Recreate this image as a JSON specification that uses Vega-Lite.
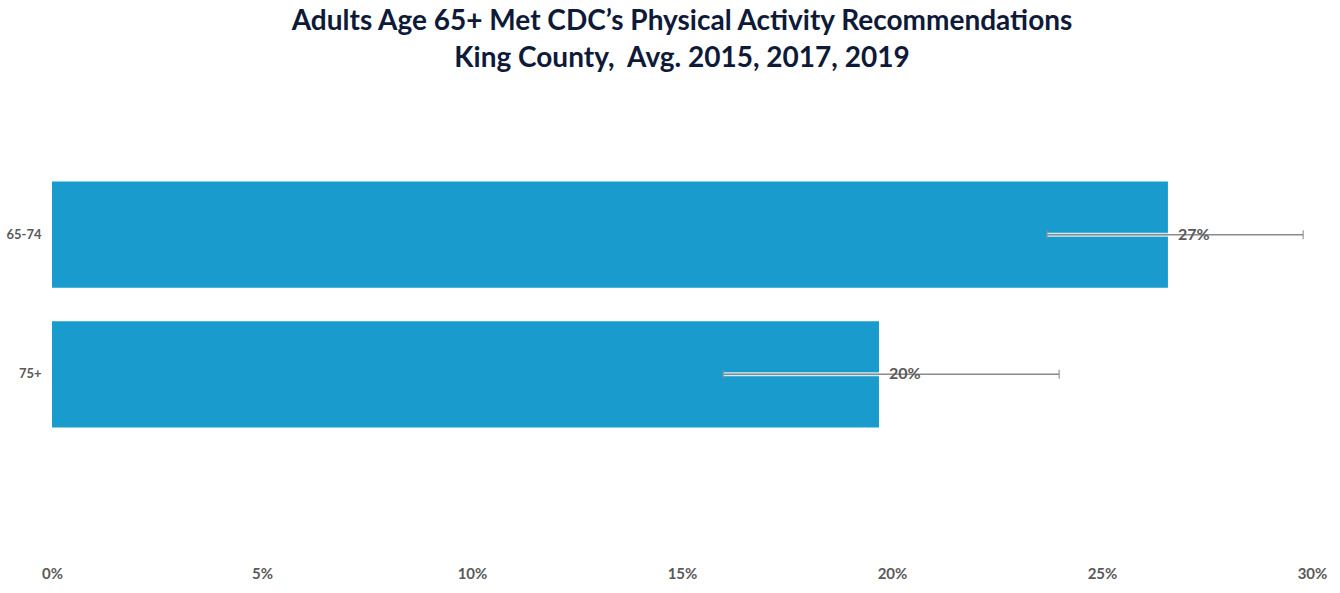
{
  "$schema": "https://vega.github.io/schema/vega-lite/v6.json",
  "autosize": "none",
  "padding": {"left": 52, "top": 95, "right": 28, "bottom": 79},
  "width": 1260,
  "height": 419,
  "background": "white",
  "config": {"view": {"stroke": null}},
  "title": {
    "text": ["Adults Age 65+ Met CDC\u2019s Physical Activity Recommendations", "King County,\u00a0 Avg. 2015, 2017, 2019"],
    "font": "Lato",
    "fontSize": 28,
    "fontWeight": "bold",
    "color": "#0e1a38",
    "lineHeight": 37,
    "anchor": "middle",
    "frame": "group",
    "offset": 22
  },
  "data": {
    "values": [
      {"age": "65-74", "pct": 0.2657, "low": 0.2369, "high": 0.2979, "label": "27%"},
      {"age": "75+", "pct": 0.1969, "low": 0.1598, "high": 0.2398, "label": "20%"}
    ]
  },
  "encoding": {
    "y": {
      "field": "age",
      "type": "nominal",
      "sort": ["65-74", "75+"],
      "scale": {"paddingInner": 0.24, "paddingOuter": 0.62},
      "axis": {
        "title": null,
        "domain": false,
        "ticks": false,
        "labelPadding": 11,
        "labelFont": "Lato",
        "labelFontSize": 13,
        "labelFontWeight": "bold",
        "labelColor": "#595959"
      }
    }
  },
  "layer": [
    {
      "mark": {"type": "bar", "color": "#1a9bcd"},
      "encoding": {
        "x": {
          "field": "pct",
          "type": "quantitative",
          "scale": {"domain": [0, 0.3], "nice": false},
          "axis": {
            "title": null,
            "format": ".0%",
            "values": [0, 0.05, 0.1, 0.15, 0.2, 0.25, 0.3],
            "domain": false,
            "ticks": false,
            "grid": false,
            "labelPadding": 52,
            "labelFont": "Lato",
            "labelFontSize": 15,
            "labelFontWeight": "bold",
            "labelColor": "#595959",
            "labelFlush": false
          }
        }
      }
    },
    {
      "mark": {"type": "rule", "color": "#ffffff", "strokeWidth": 4, "opacity": 0.8},
      "encoding": {"x": {"field": "low", "type": "quantitative"}, "x2": {"field": "high"}}
    },
    {
      "mark": {"type": "rule", "color": "#8a8a8a", "strokeWidth": 1.5},
      "encoding": {"x": {"field": "low", "type": "quantitative"}, "x2": {"field": "high"}}
    },
    {
      "mark": {"type": "tick", "color": "#8a8a8a", "orient": "vertical", "size": 9, "thickness": 1.5},
      "encoding": {"x": {"field": "low", "type": "quantitative"}}
    },
    {
      "mark": {"type": "tick", "color": "#8a8a8a", "orient": "vertical", "size": 9, "thickness": 1.5},
      "encoding": {"x": {"field": "high", "type": "quantitative"}}
    },
    {
      "mark": {"type": "text", "align": "left", "baseline": "middle", "dx": 10, "font": "Lato", "fontSize": 16, "fontWeight": "bold", "color": "#595959"},
      "encoding": {"x": {"field": "pct", "type": "quantitative"}, "text": {"field": "label"}}
    }
  ]
}
